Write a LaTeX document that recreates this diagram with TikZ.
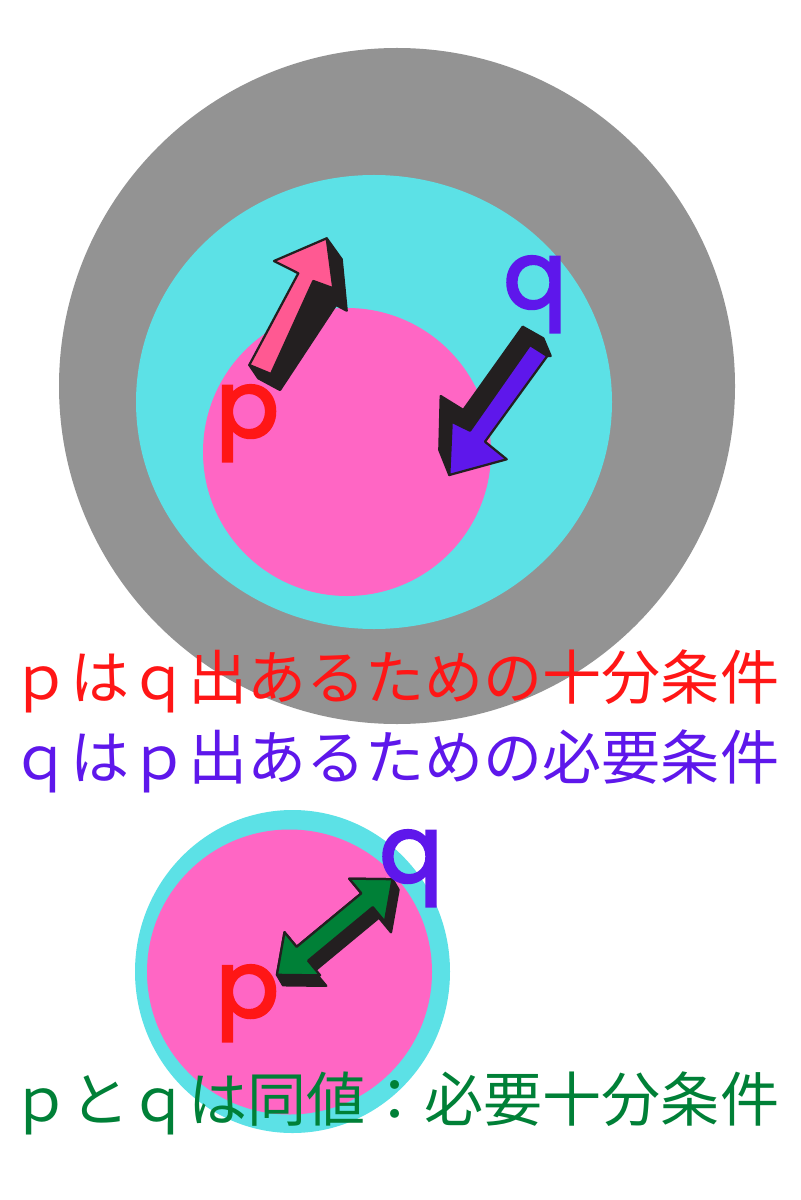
\documentclass[tikz,border=0pt]{standalone}
\usepackage{fontspec}
\newfontfamily\jpfont{Noto Sans CJK JP}
\newfontfamily\letrafont{Poppins}[FakeBold=3]
\definecolor{cinza}{RGB}{147,147,147}
\definecolor{ciano}{RGB}{92,225,230}
\definecolor{rosa}{RGB}{255,102,196}
\definecolor{setarosa}{RGB}{255,89,146}
\definecolor{vermelho}{RGB}{255,22,22}
\definecolor{violeta}{RGB}{94,23,235}
\definecolor{verde}{RGB}{0,128,55}
\definecolor{preto}{RGB}{35,31,32}

\begin{document}
\begin{tikzpicture}[x=0.025cm, y=-0.025cm,
  face/.style={draw=preto, line width=1.6pt, line join=round},
  lado/.style={face, fill=preto},
  letra/.style={font=\letrafont\fontsize{66pt}{70pt}\selectfont, inner sep=0pt, anchor=base},
  frase/.style={font=\jpfont\fontsize{42pt}{50pt}\selectfont, inner sep=0pt, anchor=base west}]
  \fill[white] (0,0) rectangle (800,1200);
  \useasboundingbox (0,0) rectangle (800,1200);
  % Círculos
  \fill[cinza] (397,386) circle[radius=338];
  \fill[ciano] (374,402) ellipse[x radius=238, y radius=227];
  \fill[rosa] (347,452) circle[radius=144];
  \fill[ciano] (292.5,971.5) ellipse[x radius=157.5, y radius=161.5];
  \fill[rosa] (289.5,972) circle[radius=142.5];
  % Seta p
  \draw[lado] (326.7,238.3) -- (341.7,259.3) -- (346.7,310.7) -- (336,305) -- (280,390)
    -- (258.3,378.3) -- (249.3,365) -- (271,374) -- (313.3,281) -- (333.3,288.3) -- cycle;
  \draw[face, fill=setarosa] (249.3,365) -- (271,374) -- (313.3,281) -- (333.3,288.3)
    -- (326.7,238.3) -- (274,261) -- (298.3,273.3) -- cycle;
  % Seta q
  \draw[lado] (522.7,326.7) -- (543.3,338.3) -- (550.7,356) -- (547.3,356) -- (530,345)
    -- (470,430.7) -- (451.7,421.7) -- (449.3,475) -- (439.3,450) -- (440.7,396) -- (463.3,410) -- cycle;
  \draw[face, fill=violeta] (530,345) -- (547.3,356) -- (485,441.7) -- (506.7,459.3)
    -- (449.3,475) -- (451.7,421.7) -- (470,430.7) -- cycle;
  % Seta dupla
  \begin{scope}[shift={(334.7,927)}, rotate=39.6]
    \draw[lado] (75,0) -- (73,12) -- (40,40) -- (40,21) -- (-44,21) -- (-44,40) -- (-77,12)
      -- (-75,0) -- (-42,-28) -- (-42,-9) -- (42,-9) -- (42,-28) -- cycle;
    \draw[face, fill=verde] (75,0) -- (42,28) -- (42,9) -- (-42,9) -- (-42,28) -- (-75,0)
      -- (-42,-28) -- (-42,-9) -- (42,-9) -- (42,-28) -- cycle;
  \end{scope}
  % Rótulos
  \foreach \n/\x/\y/\cor/\letra in {p1/247.5/437/vermelho/p, q1/535/308/violeta/q,
                                    p2/247.5/1017/vermelho/p, q2/411/882/violeta/q}
    \node[letra, text=\cor] (\n) at (\x,\y) {\letra};
  % Textos
  \foreach \n/\y/\cor/\texto in {1/699/vermelho/ｐはｑ出あるための十分条件,
                                 2/779/violeta/ｑはｐ出あるための必要条件,
                                 3/1121/verde/ｐとｑは同値：必要十分条件}
    \node[frase, text=\cor] (linha\n) at (11,\y) {\texto};
\end{tikzpicture}
\end{document}
